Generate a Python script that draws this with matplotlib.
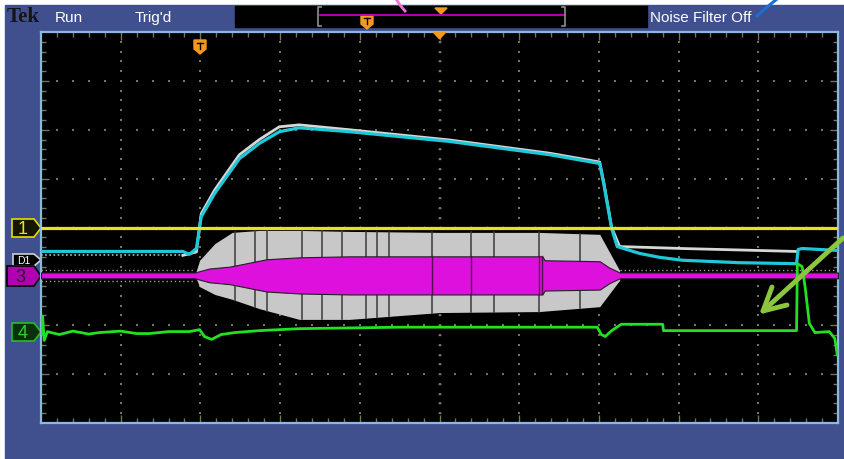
import matplotlib
matplotlib.use("Agg")
import matplotlib.pyplot as plt
import numpy as np
from matplotlib.patches import Polygon, Rectangle
from matplotlib.collections import LineCollection

# ---- trace data, in screen divisions (x: -5..5, y: -4..4) ----
ch1_x = [-5.0, 5.0]
ch1_y = [0.0, 0.0]

ch2_x = [-5.0, -4.0, -3.22, -3.14, -3.05, -2.99, -2.82, -2.51, -2.26, -2.01, -1.76, -1.13,
         0.13, 1.38, 2.01, 2.06, 2.16, 2.23, 2.51, 2.76, 3.05, 3.76, 4.48, 4.50, 4.55, 5.0]
ch2_y = [-0.49, -0.49, -0.49, -0.55, -0.43, 0.22, 0.70, 1.41, 1.72, 1.96, 2.04, 1.96,
         1.76, 1.49, 1.31, 0.90, -0.02, -0.39, -0.53, -0.61, -0.67, -0.72, -0.74, -0.45, -0.43, -0.47]

ref_x = [-5.0, -3.22, -3.05, -2.99, -2.82, -2.51, -2.26, -2.01, -1.76, -1.13,
         0.13, 1.38, 2.01, 2.06, 2.16, 2.26, 3.05, 4.48]
ref_y = [-0.57, -0.57, -0.50, 0.28, 0.77, 1.49, 1.80, 2.06, 2.10, 2.00,
         1.79, 1.52, 1.34, 0.93, 0.00, -0.39, -0.43, -0.49]

ch3_level = -0.98
ch3_env_x = [-5.0, -3.07, -2.89, -2.63, -2.17, -1.76, -1.13, 0.0, 0.75, 1.29, 1.32, 2.01, 2.13, 2.26, 5.0]
ch3_env_h = [0.06, 0.06, 0.14, 0.18, 0.33, 0.37, 0.39, 0.39, 0.39, 0.39, 0.31, 0.29, 0.16, 0.06, 0.06]

d1_env_x = [-3.07, -3.01, -2.82, -2.60, -2.26, -1.76, -1.13, 0.0, 1.25, 2.01, 2.26]
d1_env_top = [-0.98, -0.67, -0.33, -0.10, -0.06, -0.06, -0.08, -0.10, -0.10, -0.14, -0.88]
d1_env_bot = [-0.98, -1.21, -1.37, -1.47, -1.66, -1.88, -1.88, -1.74, -1.72, -1.62, -1.08]
d1_stripes = [-2.57, -2.32, -2.16, -1.72, -1.47, -1.22, -0.92, -0.79, -0.63, -0.09,
              0.40, 0.69, 1.25, 1.76]

ch4_x = [-5.0, -4.98, -4.96, -4.92, -4.77, -4.6, -4.4, -4.27, -4.0, -3.8, -3.64, -3.4, -3.14,
         -3.01, -2.95, -2.86, -2.74, -2.57, -2.26, -1.76, -0.50, 0.75, 1.98, 2.03, 2.08,
         2.16, 2.28, 2.80, 2.81, 4.48, 4.49, 4.55, 4.59, 4.64, 4.71, 4.89, 4.96, 4.99]
ch4_y = [-2.17, -1.82, -2.31, -2.13, -2.19, -2.12, -2.18, -2.15, -2.12, -2.17, -2.17, -2.13, -2.13,
         -2.09, -2.23, -2.29, -2.19, -2.15, -2.11, -2.07, -2.04, -2.04, -2.04, -2.19, -2.23,
         -2.11, -1.98, -1.98, -2.11, -2.11, -0.74, -0.80, -1.25, -1.96, -2.15, -2.13, -2.27, -2.60]

W, H = 844, 460
fig = plt.figure(figsize=(W / 100, H / 100), dpi=100)
fig.patch.set_facecolor('white')

# background layer in pixel coordinates
bg = fig.add_axes([0, 0, 1, 1], zorder=0)
bg.set_xlim(0, W)
bg.set_ylim(H, 0)
bg.axis('off')
bg.add_patch(Rectangle((5, 6), W - 5, H - 6, color='#40508e'))

txt = dict(color='white', fontsize=11, va='center', family=['Liberation Sans', 'DejaVu Sans'])
bg.text(7, 17, 'Tek', color='#151515', fontsize=15, fontweight='bold', va='center',
        family=['Liberation Serif', 'DejaVu Serif'])
bg.text(55, 18, 'Run', **txt)
bg.text(135, 18, "Trig'd", **txt)
bg.text(650, 18, 'Noise Filter Off', **txt)

# record view
bg.add_patch(Rectangle((235, 7), 412, 21, color='black'))
bg.plot([320, 564], [16, 16], color='#c000c0', lw=1.3)
bg.plot([321, 318, 318, 321], [8, 8, 27, 27], color='#909090', lw=1.2)
bg.plot([562, 565, 565, 562], [8, 8, 27, 27], color='#909090', lw=1.2)
bg.add_patch(Polygon([(435, 9), (447, 9), (441, 15)], color='#f39a1e'))
bg.add_patch(Polygon([(361, 16), (373, 16), (373, 25), (367, 30), (361, 25)], color='#f39a1e'))
bg.plot([364, 370], [18.5, 18.5], color='black', lw=1)
bg.plot([367, 367], [18.5, 25], color='black', lw=1)


def marker(ax, cy, half, face, edge, label, color, fs, x0=12):
    pts = [(x0, cy - half), (34, cy - half), (41, cy), (34, cy + half), (x0, cy + half)]
    ax.add_patch(Polygon(pts, facecolor=face, edgecolor=edge, lw=1.2))
    ax.text((x0 + 34) / 2, cy + 0.5, label, color=color, fontsize=fs, ha='center', va='center',
            family=['Liberation Sans', 'DejaVu Sans'])


marker(bg, 229, 9, '#151500', '#e0e000', '1', '#e8e800', 13)
marker(bg, 261, 6, 'black', '#d0d0d0', 'D1', 'white', 7.5, x0=13)
marker(bg, 277, 10, '#b000b0', 'black', '3', '#202020', 13, x0=7)
marker(bg, 333, 9, '#0c300c', '#20c020', '4', '#30d030', 13)

# ---- scope screen ----
ax = fig.add_axes([41 / W, (H - 424) / H, 797 / W, 391 / H], zorder=2)
ax.set_facecolor('black')
ax.set_xlim(-5, 5)
ax.set_ylim(-4, 4)
ax.set_xticks([])
ax.set_yticks([])
for s in ax.spines.values():
    s.set_color('#8cb8e0')
    s.set_linewidth(1.6)

gcol = '#75755a'
gx, gy = [], []
for k in range(-4, 5):
    for j in range(1, 40):
        gx.append(k)
        gy.append(-4 + 0.2 * j)
for k in range(-3, 4):
    for j in range(1, 50):
        gx.append(-5 + 0.2 * j)
        gy.append(k)
ax.scatter(gx, gy, s=1.2, color=gcol, marker='s', lw=0, zorder=1)

segs = []
for j in range(1, 50):
    xv = -5 + 0.2 * j
    ln = 0.16 if j % 5 == 0 else 0.1
    segs.append([(xv, -4), (xv, -4 + ln)])
    segs.append([(xv, 4), (xv, 4 - ln)])
    segs.append([(xv, -0.03), (xv, 0.03)])
for j in range(1, 40):
    yv = -4 + 0.2 * j
    ln = 0.1 if j % 5 == 0 else 0.06
    segs.append([(-5, yv), (-5 + ln, yv)])
    segs.append([(5, yv), (5 - ln, yv)])
    segs.append([(-0.025, yv), (0.025, yv)])
ax.add_collection(LineCollection(segs, colors=gcol, linewidths=1, zorder=1))
ax.add_patch(Polygon([(-0.08, 4), (0.08, 4), (0.0, 3.86)], color='#f39a1e', zorder=6))

# D1 envelope (grey) with pre-burst dotted edges
ax.fill_between(d1_env_x, d1_env_bot, d1_env_top, color='#c8c8c8', lw=0, zorder=2)
ex = np.array(d1_env_x)
for sx in d1_stripes:
    ax.plot([sx, sx], [np.interp(sx, ex, d1_env_bot), np.interp(sx, ex, d1_env_top)],
            color='#3a3a3a', lw=1.1, zorder=2)
ax.plot([-5, -3.07], [ch3_level + 0.12] * 2, color='#a0a0a0', lw=1, ls=(0, (1, 2)), zorder=2)
ax.plot([-5, -3.07], [ch3_level - 0.12] * 2, color='#a0a0a0', lw=1, ls=(0, (1, 2)), zorder=2)
ax.plot([2.26, 5], [ch3_level + 0.12] * 2, color='#a0a0a0', lw=1, ls=(0, (1, 2)), zorder=2)

# channel 3 (magenta)
c3x = np.array(ch3_env_x)
c3h = np.array(ch3_env_h)
ax.fill_between(c3x, ch3_level - c3h, ch3_level + c3h, facecolor='#dd10dd', edgecolor='#202020',
                lw=0.8, zorder=3)
for sx in [-0.09, 0.40, 1.25, 1.29]:
    h = np.interp(sx, c3x, c3h)
    ax.plot([sx, sx], [ch3_level - h, ch3_level + h], color='#501050', lw=1, zorder=3)

# reference (white) and channel 2 (cyan)
ax.plot(ref_x[:2], ref_y[:2], color='#b8b8b8', lw=1.2, ls=(0, (1, 1.5)), zorder=4)
ax.plot(ref_x[1:], ref_y[1:], color='#d8d8d8', lw=2, zorder=4)
ax.plot(ch2_x, ch2_y, color='#1ec8d8', lw=2.3, zorder=5)

# channel 1 (yellow) and channel 4 (green)
ax.plot(ch1_x, ch1_y, color='#e4e41a', lw=2.3, zorder=5)
ax.plot(ch4_x, ch4_y, color='#22e022', lw=2, zorder=5)

# ---- foreground overlay: trigger marker, annotation arrows ----
fg = fig.add_axes([0, 0, 1, 1], zorder=4)
fg.set_xlim(0, W)
fg.set_ylim(H, 0)
fg.axis('off')
fg.patch.set_alpha(0)
fg.add_patch(Polygon([(194, 41), (206, 41), (206, 50), (200, 55), (194, 50)], color='#f39a1e'))
fg.plot([197, 203], [43.5, 43.5], color='black', lw=1)
fg.plot([200, 200], [43.5, 50], color='black', lw=1)

acol = '#8cc63f'
fg.plot([843, 763], [239, 312], color=acol, lw=3.5, solid_capstyle='round')
fg.plot([772, 763, 787], [288, 312, 306], color=acol, lw=3.5, solid_capstyle='round',
        solid_joinstyle='round')
fg.plot([396, 400, 405], [0, 6, 12], color='#f070e0', lw=2)
fg.plot([757, 767, 777], [17, 8, 0], color='#1a6fd0', lw=2.2)

fig.savefig('out.png', dpi=100, facecolor='white')
